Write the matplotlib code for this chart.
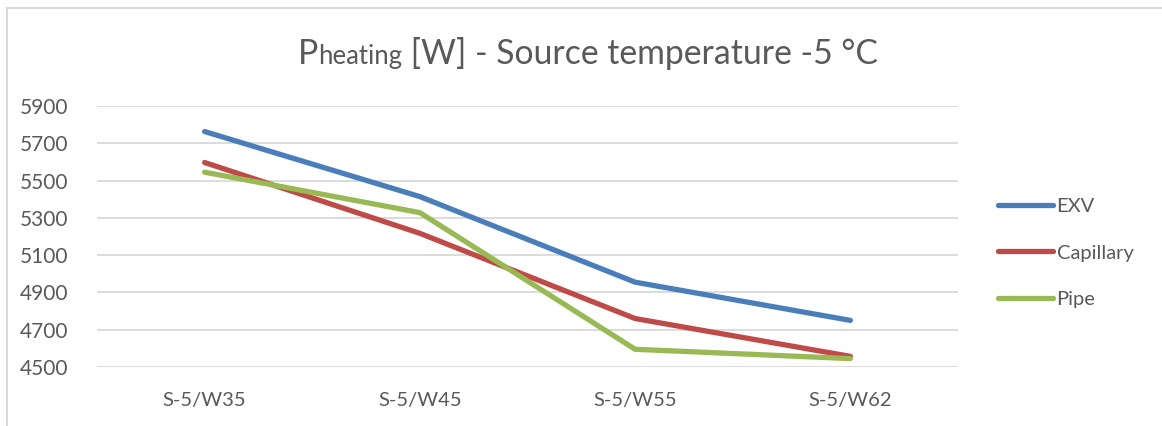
import matplotlib
matplotlib.use("Agg")
import matplotlib.pyplot as plt
from matplotlib.patches import Rectangle

categories = ["S-5/W35", "S-5/W45", "S-5/W55", "S-5/W62"]
exv = [5763, 5414, 4955, 4750]
capillary = [5597, 5217, 4760, 4557]
pipe = [5545, 5328, 4595, 4545]
yticks = [4500, 4700, 4900, 5100, 5300, 5500, 5700, 5900]

grey = "#595959"
plt.rcParams['font.family'] = ['Lato', 'DejaVu Sans']

W, H = 1162, 426
fig = plt.figure(figsize=(W / 100, H / 100), dpi=100)

# chart area border
fig.patches.append(Rectangle((7 / W, -0.1), 1.2, 1 - 8 / H + 0.1, transform=fig.transFigure,
                             fill=False, edgecolor="#d9d9d9", linewidth=1.5))

ax = fig.add_axes([97 / W, 1 - 367 / H, (958 - 97) / W, (367 - 106) / H])
x = range(len(categories))
ax.plot(x, exv, color="#4a7ebb", lw=3.8, solid_capstyle="round", solid_joinstyle="round", label="EXV", zorder=3)
ax.plot(x, capillary, color="#be4b48", lw=3.8, solid_capstyle="round", solid_joinstyle="round", label="Capillary", zorder=3)
ax.plot(x, pipe, color="#98b954", lw=3.8, solid_capstyle="round", solid_joinstyle="round", label="Pipe", zorder=3)

ax.set_xlim(-0.5, 3.5)
ax.set_ylim(4500, 5900)
ax.set_yticks(yticks)
ax.set_xticks(list(x))
ax.set_xticklabels(categories)
ax.grid(axis="y", color="#d9d9d9", lw=1.3)
ax.set_axisbelow(True)
for s in ax.spines.values():
    s.set_visible(False)
ax.tick_params(length=0, labelsize=15, colors=grey)
ax.tick_params(axis="y", pad=21)
ax.tick_params(axis="x", labelsize=14.5, pad=18)

leg = ax.legend(loc="center left", bbox_to_anchor=(980 / W, 1 - 253 / H), bbox_transform=fig.transFigure,
                frameon=False, fontsize=14.5, handlelength=2.7, handletextpad=0.2, labelspacing=1.45)
for t in leg.get_texts():
    t.set_color(grey)

# title: big "P" followed by smaller "heating" on the same baseline
ty = 1 - 64 / H
t1 = fig.text(298 / W, ty, "P", fontsize=24.3, color=grey, va="baseline")
fig.canvas.draw()
r = fig.canvas.get_renderer()
bb = t1.get_window_extent(r)
t2 = fig.text(bb.x1 / W, ty, "heating", fontsize=18.5, color=grey, va="baseline")
bb = t2.get_window_extent(r)
fig.text(bb.x1 / W, ty, " [W] - Source temperature -5 °C", fontsize=24.3, color=grey, va="baseline")

fig.savefig("out.png", dpi=100)
